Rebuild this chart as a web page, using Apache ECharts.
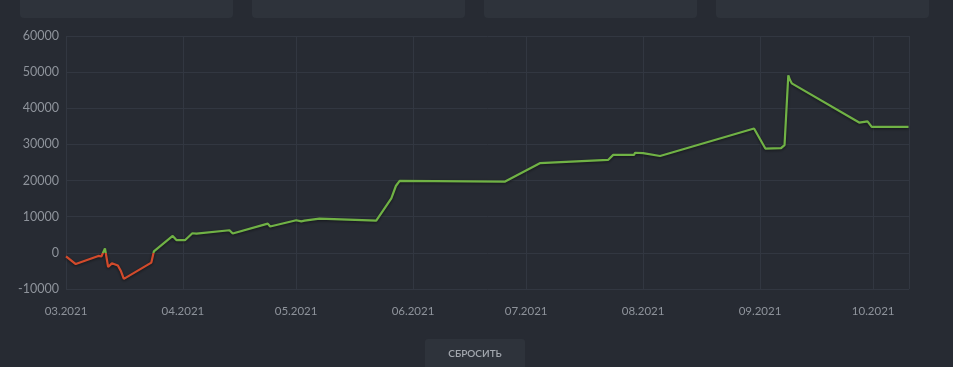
<!DOCTYPE html>
<html>
<head>
<meta charset="utf-8">
<script src="https://cdn.jsdelivr.net/npm/echarts@6/dist/echarts.min.js"></script>
<style>
html,body{margin:0;padding:0;background:#272b33;}
#c{width:953px;height:367px;}
</style>
</head>
<body>
<div id="c"></div>
<script>
// Data
const dates = [
  '2021-03-01 00:00','2021-03-03 14:00','2021-03-09 14:00','2021-03-10 09:00','2021-03-11 08:00',
  '2021-03-12 04:00','2021-03-13 04:00','2021-03-14 18:00','2021-03-15 14:00','2021-03-16 08:00',
  '2021-03-23 15:00','2021-03-24 07:00','2021-03-29 07:00','2021-03-30 08:00','2021-04-01 13:00',
  '2021-04-03 12:00','2021-04-04 14:00','2021-04-13 08:00','2021-04-14 05:00','2021-04-23 12:00',
  '2021-04-24 03:00','2021-05-01 01:00','2021-05-02 09:00','2021-05-03 06:00','2021-05-07 05:00',
  '2021-05-22 06:00','2021-05-26 06:00','2021-05-27 11:00','2021-05-28 11:00','2021-06-25 07:00',
  '2021-07-04 15:00','2021-07-22 17:00','2021-07-24 02:00','2021-07-29 14:00','2021-07-29 21:00',
  '2021-08-01 00:00','2021-08-05 12:00','2021-08-30 10:00','2021-09-02 10:00','2021-09-06 14:00',
  '2021-09-07 12:00','2021-09-08 12:00','2021-09-08 23:00','2021-09-09 10:00','2021-09-27 07:00',
  '2021-09-29 12:00','2021-09-30 15:00','2021-10-10 09:00'
];
const values = [
  -1000, -3100, -850, -1000, 1250,
  -3900, -2900, -3500, -5100, -7200,
  -2700, 400, 4680, 3500, 3500,
  5420, 5300, 6250, 5340, 8100,
  7300, 9020, 8700, 8900, 9490,
  8900, 15100, 18500, 19900, 19700,
  24800, 25700, 27100, 27100, 27700,
  27600, 26800, 34400, 28860, 29000,
  29800, 49140, 47800, 46900, 36050,
  36400, 34850, 34850
];
const yTicks = [-10000, 0, 10000, 20000, 30000, 40000, 50000, 60000];
const monthLabels = ['03.2021','04.2021','05.2021','06.2021','07.2021','08.2021','09.2021','10.2021'];
const xMin = '2021-03-01 00:00';
const xMax = '2021-10-10 12:00';
const resetLabel = 'СБРОСИТЬ';

const RED = '#d24a2b', GREEN = '#70b245';
const chart = echarts.init(document.getElementById('c'), null, {renderer:'canvas'});
const seriesData = dates.map((d,i)=>[d, values[i]]);
const font = 'Lato, "Noto Sans", sans-serif';

chart.setOption({
  backgroundColor: '#272b33',
  animation: false,
  grid: {left: 66, right: 44, top: 36, bottom: 78, containLabel: false},
  xAxis: {
    type: 'time',
    min: xMin, max: xMax,
    minInterval: 28*86400000, maxInterval: 31*86400000,
    axisLine: {show: false}, axisTick: {show: false},
    splitLine: {show: true, lineStyle: {color: '#323741', width: 1}},
    axisLabel: {
      color: '#8e939b', fontSize: 11.5, fontFamily: font, margin: 16,
      showMaxLabel: false,
      formatter: function(v){
        const d = new Date(v);
        const m = d.getMonth() - 2;
        return monthLabels[m] !== undefined ? monthLabels[m] : '';
      }
    }
  },
  yAxis: {
    type: 'value',
    min: yTicks[0], max: yTicks[yTicks.length-1], interval: 10000,
    axisLine: {show: false}, axisTick: {show: false},
    splitLine: {show: true, lineStyle: {color: '#323741', width: 1}},
    axisLabel: {color: '#8e939b', fontSize: 12.5, fontFamily: font, margin: 7,
      formatter: function(v){ return String(v); }}
  },
  series: [{
    type: 'line',
    data: seriesData,
    showSymbol: false,
    lineStyle: {width: 2.2, color: GREEN, shadowColor: 'rgba(0,0,0,0.55)', shadowBlur: 3, shadowOffsetY: 1},
    z: 3
  }],
  graphic: [
    {type:'rect', shape:{x:20,y:-10,width:213,height:28,r:4}, style:{fill:'#2e333b'}},
    {type:'rect', shape:{x:252,y:-10,width:213,height:28,r:4}, style:{fill:'#2e333b'}},
    {type:'rect', shape:{x:484,y:-10,width:213,height:28,r:4}, style:{fill:'#2e333b'}},
    {type:'rect', shape:{x:716,y:-10,width:213,height:28,r:4}, style:{fill:'#2e333b'}},
    {type:'rect', shape:{x:425,y:339,width:100,height:34,r:3}, style:{fill:'#2e333b'}},
    {type:'text', x:475, y:354, style:{text: resetLabel, fill:'#a2a7ae', font:'600 10px ' + font, align:'center', verticalAlign:'middle'}}
  ]
});

// colour the line red below zero, green above, using the axis scale
const yTop = chart.convertToPixel({yAxisIndex: 0}, yTicks[yTicks.length-1]);
const yBot = chart.convertToPixel({yAxisIndex: 0}, yTicks[0]);
const yZero = chart.convertToPixel({yAxisIndex: 0}, 0);
const off = (yZero - yTop) / (yBot - yTop);
chart.setOption({
  series: [{
    lineStyle: {
      color: {
        type: 'linear', global: true, x: 0, y: yTop, x2: 0, y2: yBot,
        colorStops: [
          {offset: 0, color: GREEN}, {offset: off, color: GREEN},
          {offset: off, color: RED}, {offset: 1, color: RED}
        ]
      }
    }
  }]
});
</script>
</body>
</html>
